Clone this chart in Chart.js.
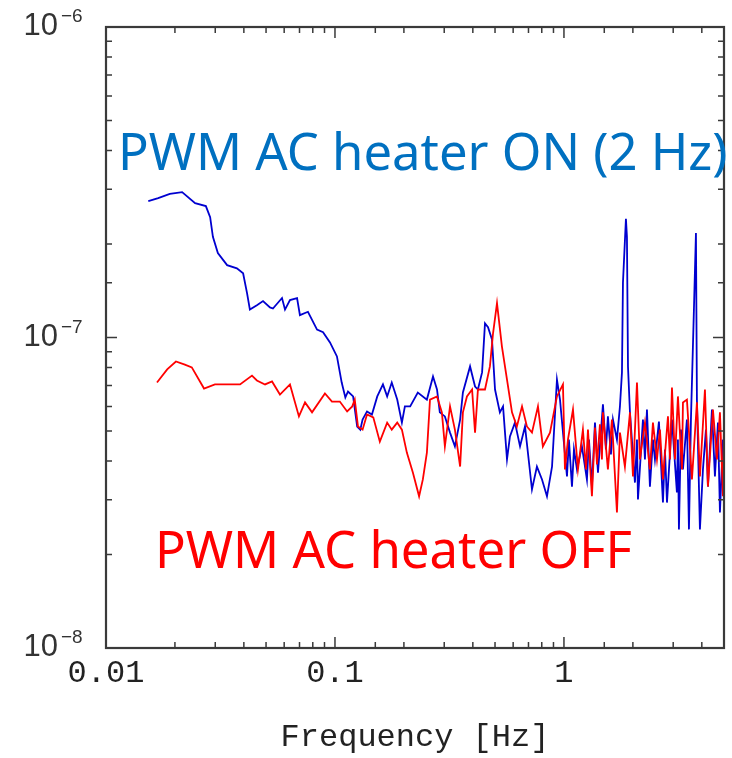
<!DOCTYPE html>
<html lang="en">
<head>
<meta charset="UTF-8">
<title>PWM AC heater spectrum</title>
<script src="https://cdn.jsdelivr.net/npm/chart.js"></script>
<style>
    html, body { margin: 0; padding: 0; background: #fff; }
    canvas { display: block; }
</style>
</head>
<body>
<canvas id="spectrum" width="732" height="758"></canvas>
<script>
/* values (frequency in Hz) */
const blueFreq = [0.0153, 0.0169, 0.0190, 0.0215, 0.0245, 0.0273, 0.0285, 0.0293, 0.0308, 0.0338,
    0.0373, 0.0397, 0.0413, 0.0425, 0.0456, 0.0485, 0.0520, 0.0536, 0.0587, 0.0605,
    0.0636, 0.0683, 0.0703, 0.0762, 0.0835, 0.0887, 0.0951, 0.102, 0.107, 0.111,
    0.114, 0.120, 0.125, 0.129, 0.132, 0.138, 0.145, 0.153, 0.162, 0.169,
    0.177, 0.187, 0.196, 0.202, 0.213, 0.230, 0.252, 0.268, 0.279, 0.287,
    0.302, 0.318, 0.334, 0.352, 0.362, 0.389, 0.409, 0.421, 0.439, 0.452,
    0.466, 0.485, 0.500, 0.525, 0.542, 0.564, 0.581, 0.611, 0.643, 0.676,
    0.725, 0.762, 0.802, 0.843, 0.887, 0.932, 0.961,
    1.031, 1.051, 1.084, 1.106, 1.140, 1.198, 1.260, 1.286, 1.325, 1.366,
    1.408, 1.480, 1.525, 1.556, 1.604, 1.637, 1.704, 1.756, 1.792, 1.810,
    1.865, 1.884, 1.904, 1.942, 2.042, 2.084, 2.105, 2.213, 2.258, 2.304,
    2.374, 2.447, 2.497, 2.599, 2.706, 2.761, 2.818, 2.963, 3.114, 3.146,
    3.178, 3.243, 3.309, 3.444, 3.515, 3.586, 3.695, 3.771, 3.808, 3.925,
    4.046, 4.170, 4.254, 4.429, 4.564, 4.705, 4.800, 4.947];
const blueVal = [2.75e-7, 2.81e-7, 2.90e-7, 2.94e-7, 2.71e-7, 2.65e-7, 2.44e-7, 2.11e-7, 1.87e-7, 1.71e-7,
    1.67e-7, 1.61e-7, 1.39e-7, 1.23e-7, 1.27e-7, 1.31e-7, 1.25e-7, 1.24e-7, 1.34e-7, 1.23e-7,
    1.32e-7, 1.34e-7, 1.18e-7, 1.21e-7, 1.06e-7, 1.04e-7, 9.64e-8, 8.69e-8, 7.16e-8, 6.41e-8,
    6.70e-8, 6.46e-8, 5.17e-8, 5.05e-8, 5.44e-8, 5.78e-8, 5.65e-8, 6.46e-8, 7.06e-8, 6.46e-8,
    7.16e-8, 6.31e-8, 5.32e-8, 6.00e-8, 6.00e-8, 6.65e-8, 6.31e-8, 7.49e-8, 6.80e-8, 5.74e-8,
    5.57e-8, 4.94e-8, 4.46e-8, 5.44e-8, 6.65e-8, 8.07e-8, 6.95e-8, 6.80e-8, 7.72e-8, 1.11e-7,
    1.08e-7, 9.85e-8, 6.80e-8, 5.74e-8, 6.00e-8, 4.05e-8, 4.80e-8, 5.32e-8, 4.46e-8, 5.17e-8,
    3.24e-8, 3.84e-8, 3.49e-8, 3.08e-8, 3.84e-8, 7.32e-8, 6.31e-8,
    3.57e-8, 4.69e-8, 3.31e-8, 4.36e-8, 3.76e-8, 4.46e-8, 3.49e-8, 4.69e-8, 3.31e-8, 5.32e-8,
    3.67e-8, 6.09e-8, 4.36e-8, 5.57e-8, 4.20e-8, 5.44e-8, 4.69e-8, 6.00e-8, 7.72e-8, 1.50e-7,
    2.41e-7, 2.11e-7, 8.07e-8, 5.74e-8, 3.41e-8, 4.69e-8, 3.01e-8, 5.44e-8, 4.05e-8, 5.86e-8,
    3.31e-8, 4.69e-8, 4.05e-8, 5.36e-8, 2.94e-8, 4.36e-8, 2.94e-8, 5.44e-8, 3.17e-8, 4.69e-8,
    2.41e-8, 5.05e-8, 3.76e-8, 5.44e-8, 2.41e-8, 5.44e-8, 1.23e-7, 2.17e-7, 6.31e-8, 2.41e-8,
    3.76e-8, 5.05e-8, 3.31e-8, 5.86e-8, 3.57e-8, 5.32e-8, 2.73e-8, 4.69e-8];

const redFreq = [0.0167, 0.0185, 0.0202, 0.0221, 0.0237, 0.0268, 0.0299, 0.0385, 0.0434, 0.0456,
    0.0495, 0.0531, 0.0575, 0.0636, 0.0696, 0.0740, 0.0794, 0.0904, 0.0970, 0.105,
    0.113, 0.119, 0.122, 0.126, 0.132, 0.138, 0.147, 0.157, 0.169, 0.177,
    0.187, 0.196, 0.206, 0.219, 0.233, 0.242, 0.252, 0.260, 0.279, 0.293,
    0.302, 0.318, 0.334, 0.352, 0.362, 0.377, 0.397, 0.409, 0.421, 0.452,
    0.475, 0.490, 0.510, 0.536, 0.564, 0.593, 0.623, 0.656, 0.689, 0.725,
    0.770, 0.809, 0.869, 0.932,
    0.990, 1.010, 1.041, 1.095, 1.151, 1.210, 1.248, 1.273, 1.325, 1.366,
    1.394, 1.436, 1.465, 1.480, 1.556, 1.620, 1.704, 1.756, 1.846, 1.942,
    2.002, 2.084, 2.147, 2.258, 2.374, 2.447, 2.548, 2.625, 2.706, 2.846,
    2.904, 2.963, 3.054, 3.146, 3.276, 3.309, 3.444, 3.622, 3.808, 3.925,
    4.128, 4.254, 4.474, 4.657, 4.800, 4.947, 5.00];
const redVal = [7.16e-8, 7.89e-8, 8.37e-8, 8.18e-8, 8.01e-8, 6.85e-8, 7.06e-8, 7.06e-8, 7.54e-8, 7.27e-8,
    7.06e-8, 7.22e-8, 6.55e-8, 7.06e-8, 5.57e-8, 6.18e-8, 5.74e-8, 6.60e-8, 6.22e-8, 6.22e-8,
    5.78e-8, 6.00e-8, 6.31e-8, 5.17e-8, 5.05e-8, 5.65e-8, 5.53e-8, 4.62e-8, 5.32e-8, 5.05e-8,
    5.32e-8, 5.05e-8, 4.26e-8, 3.67e-8, 3.08e-8, 3.49e-8, 4.26e-8, 6.31e-8, 6.46e-8, 5.74e-8,
    4.46e-8, 6.00e-8, 5.05e-8, 3.84e-8, 5.74e-8, 6.46e-8, 6.80e-8, 4.94e-8, 6.80e-8, 6.80e-8,
    8.07e-8, 1.03e-7, 1.29e-7, 9.35e-8, 7.32e-8, 5.74e-8, 5.17e-8, 6.00e-8, 5.17e-8, 4.94e-8,
    6.00e-8, 4.46e-8, 4.94e-8, 6.46e-8,
    7.06e-8, 3.76e-8, 4.69e-8, 5.86e-8, 3.76e-8, 5.05e-8, 3.76e-8, 5.05e-8, 3.08e-8, 5.13e-8,
    3.90e-8, 5.25e-8, 4.05e-8, 5.74e-8, 3.76e-8, 5.44e-8, 2.73e-8, 4.94e-8, 3.84e-8, 5.74e-8,
    3.57e-8, 7.16e-8, 4.05e-8, 5.32e-8, 3.76e-8, 5.32e-8, 4.05e-8, 5.05e-8, 3.49e-8, 5.57e-8,
    4.05e-8, 6.90e-8, 4.05e-8, 6.46e-8, 3.76e-8, 6.18e-8, 6.31e-8, 3.49e-8, 6.18e-8, 3.57e-8,
    6.80e-8, 3.31e-8, 5.86e-8, 4.05e-8, 5.74e-8, 3.08e-8, 5.32e-8];

const xTickLabels = [0.01, 0.1, 1];
const yTickLabels = [1e-8, 1e-7, 1e-6];
const labelOn = 'PWM AC heater ON (2 Hz)';
const labelOff = 'PWM AC heater OFF';

function isDecade(v) {
    const l = Math.log10(v);
    return Math.abs(l - Math.round(l)) < 1e-6;
}

/* text squeezed to a given width */
function drawFit(ctx, text, color, x, y, w) {
    ctx.font = '50px "Noto Sans"';
    const size = 50 * w / ctx.measureText(text).width;
    ctx.font = size.toFixed(1) + 'px "Noto Sans"';
    ctx.fillStyle = color;
    ctx.textAlign = 'left';
    ctx.textBaseline = 'alphabetic';
    ctx.fillText(text, x, y);
}

/* inward ticks on all four sides, box, powers-of-ten labels, annotations */
const frame = {
    id: 'frame',
    afterDraw(chart) {
        const { ctx, chartArea: a, scales } = chart;
        ctx.save();
        ctx.strokeStyle = '#3a3a3a';
        ctx.lineWidth = 1.5;
        ctx.beginPath();
        scales.x.ticks.forEach(t => {
            const x = scales.x.getPixelForValue(t.value);
            const len = isDecade(t.value) ? 11 : 6;
            ctx.moveTo(x, a.bottom); ctx.lineTo(x, a.bottom - len);
            ctx.moveTo(x, a.top); ctx.lineTo(x, a.top + len);
        });
        scales.y.ticks.forEach(t => {
            const y = scales.y.getPixelForValue(t.value);
            const len = isDecade(t.value) ? 11 : 6;
            ctx.moveTo(a.left, y); ctx.lineTo(a.left + len, y);
            ctx.moveTo(a.right, y); ctx.lineTo(a.right - len, y);
        });
        ctx.stroke();
        ctx.lineWidth = 2.2;
        ctx.strokeRect(a.left, a.top, a.right - a.left, a.bottom - a.top);

        ctx.fillStyle = '#333';
        ctx.textBaseline = 'alphabetic';
        yTickLabels.forEach(v => {
            const y = scales.y.getPixelForValue(v);
            ctx.font = '31px "Liberation Sans"';
            ctx.textAlign = 'right';
            ctx.fillText('10', a.left - 48, y + 8);
            ctx.font = '19px "Liberation Sans"';
            ctx.textAlign = 'left';
            ctx.fillText('\u2212' + Math.abs(Math.round(Math.log10(v))), a.left - 45, y - 5);
        });

        drawFit(ctx, labelOn, '#0070c0', 118, 170, 610);
        drawFit(ctx, labelOff, '#ff0000', 155, 568, 477);
        ctx.restore();
    }
};

const ctx = document.getElementById('spectrum').getContext('2d');
new Chart(ctx, {
    type: 'line',
    data: {
        datasets: [{
            label: 'PWM AC heater OFF',
            data: redFreq.map((f, i) => ({ x: f, y: redVal[i] })),
            borderColor: '#ff0000',
            borderWidth: 1.8,
            pointRadius: 0,
            tension: 0
        }, {
            label: 'PWM AC heater ON (2 Hz)',
            data: blueFreq.map((f, i) => ({ x: f, y: blueVal[i] })),
            borderColor: '#0000d0',
            borderWidth: 1.8,
            pointRadius: 0,
            tension: 0
        }]
    },
    options: {
        responsive: false,
        animation: false,
        devicePixelRatio: 1,
        layout: { padding: { left: 0, right: 8, top: 27, bottom: 0 } },
        plugins: { legend: { display: false }, tooltip: { enabled: false } },
        scales: {
            x: {
                type: 'logarithmic',
                min: 0.01,
                max: 5,
                grid: { display: false, drawTicks: false },
                border: { display: false },
                afterFit(s) {
                    s.height = 110;
                    s.paddingLeft = 0;
                    s.paddingRight = 0;
                },
                ticks: {
                    autoSkip: false,
                    maxRotation: 0,
                    padding: 6,
                    color: '#222',
                    font: { family: '"Liberation Mono", monospace', size: 32 },
                    callback(v) {
                        const hit = xTickLabels.find(t => Math.abs(t - v) / t < 1e-6);
                        return hit === undefined ? '' : String(hit);
                    }
                },
                title: {
                    display: true,
                    text: 'Frequency [Hz]',
                    color: '#222',
                    font: { family: '"Liberation Mono", monospace', size: 32 },
                    padding: { top: 0, bottom: 1 }
                }
            },
            y: {
                type: 'logarithmic',
                min: 1e-8,
                max: 1e-6,
                grid: { display: false, drawTicks: false },
                border: { display: false },
                afterFit(s) { s.width = 106; },
                ticks: { autoSkip: false, callback() { return ''; } }
            }
        }
    },
    plugins: [frame]
});
</script>
</body>
</html>
